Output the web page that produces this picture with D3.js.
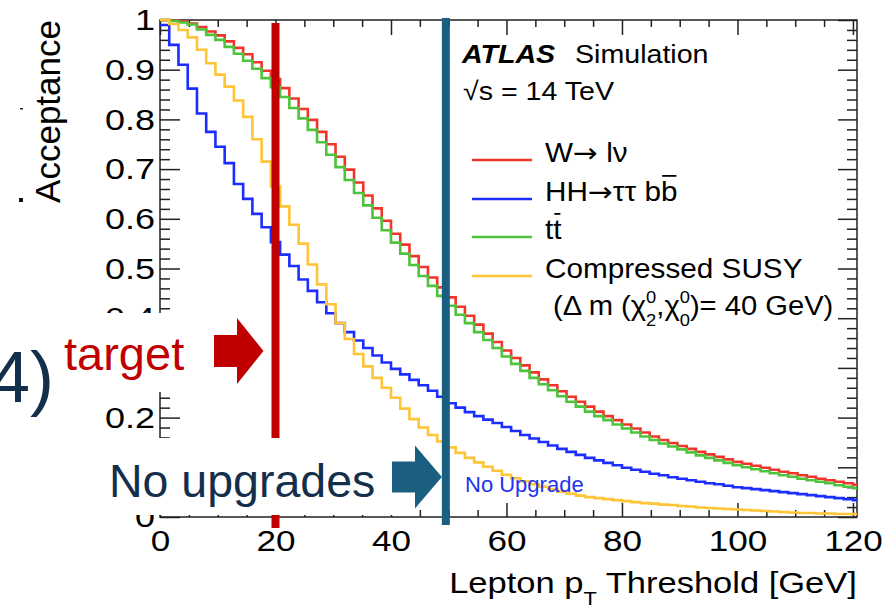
<!DOCTYPE html>
<html>
<head>
<meta charset="utf-8">
<script src="https://cdn.jsdelivr.net/npm/d3@7"></script>
<style>
body { margin: 0; background: #fff; }
svg { display: block; }
</style>
</head>
<body>
<svg id="chart"></svg>
<script>
// acceptance vs lepton pT threshold, one value per 1.6 GeV bin
let binWidth = 1.6;
let wlnu = [1.000,0.999,0.997,0.993,0.986,0.977,0.969,0.957,0.944,0.931,0.915,0.898,0.881,0.863,0.842,0.821,0.799,0.775,0.750,0.725,
    0.699,0.673,0.647,0.621,0.596,0.570,0.548,0.525,0.503,0.482,0.462,0.442,0.423,0.405,0.387,0.369,0.352,0.335,0.320,0.305,
    0.291,0.277,0.265,0.253,0.242,0.232,0.222,0.212,0.203,0.195,0.186,0.178,0.170,0.162,0.155,0.149,0.143,0.137,0.131,0.126,
    0.121,0.116,0.111,0.107,0.103,0.099,0.095,0.091,0.088,0.084,0.081,0.077,0.074,0.071,0.068,0.065];
let hhtautaubb = [0.990,0.950,0.910,0.862,0.812,0.775,0.745,0.712,0.670,0.640,0.610,0.583,0.553,0.528,0.505,0.478,0.455,0.432,0.410,0.390,
    0.372,0.355,0.340,0.325,0.311,0.298,0.287,0.276,0.265,0.254,0.242,0.229,0.220,0.211,0.203,0.196,0.189,0.181,0.173,0.165,
    0.158,0.151,0.144,0.137,0.131,0.125,0.119,0.114,0.109,0.104,0.099,0.095,0.091,0.087,0.084,0.080,0.077,0.074,0.071,0.068,
    0.066,0.063,0.060,0.058,0.056,0.054,0.052,0.050,0.048,0.046,0.044,0.042,0.040,0.038,0.036,0.034];
let ttbar = [1.000,0.998,0.995,0.991,0.981,0.970,0.960,0.946,0.932,0.918,0.902,0.883,0.865,0.845,0.823,0.802,0.779,0.754,0.729,0.704,
    0.678,0.652,0.627,0.602,0.577,0.552,0.530,0.507,0.485,0.465,0.445,0.425,0.407,0.390,0.372,0.356,0.340,0.323,0.308,0.294,
    0.280,0.267,0.255,0.243,0.232,0.222,0.212,0.203,0.195,0.186,0.178,0.170,0.162,0.155,0.148,0.142,0.136,0.130,0.124,0.119,
    0.114,0.109,0.104,0.100,0.096,0.092,0.088,0.084,0.081,0.077,0.074,0.071,0.068,0.064,0.061,0.058];
let compressedSusy = [1.000,0.992,0.980,0.965,0.940,0.913,0.890,0.866,0.838,0.805,0.760,0.715,0.665,0.625,0.588,0.550,0.508,0.468,0.428,0.390,
    0.358,0.328,0.303,0.280,0.260,0.240,0.218,0.197,0.180,0.165,0.152,0.140,0.129,0.119,0.110,0.101,0.093,0.085,0.078,0.072,
    0.066,0.061,0.056,0.051,0.047,0.043,0.040,0.038,0.036,0.034,0.032,0.030,0.028,0.027,0.025,0.024,0.022,0.021,0.019,0.018,
    0.017,0.016,0.015,0.014,0.013,0.012,0.011,0.010,0.009,0.008,0.008,0.007,0.007,0.006,0.006,0.006];

let seriesColors = ["#f2352b", "#1c2eff", "#4ec43c", "#ffc437"];
let xTicks = [0, 20, 40, 60, 80, 100, 120];
let xTickLabels = ["0", "20", "40", "60", "80", "100", "120"];
let yTicks = [0, 0.1, 0.2, 0.3, 0.4, 0.5, 0.6, 0.7, 0.8, 0.9, 1];
// 0.1 and 0.3 sit under the slide's white patches, so they are left blank
let yTickLabels = ["0", "", "0.2", "", "0.4", "0.5", "0.6", "0.7", "0.8", "0.9", "1"];
let targetThreshold = 20;
let noUpgradeThreshold = 49.5;

let FONT = "'Liberation Sans', Arial, Helvetica, sans-serif";
let NAVY = "#132f4c";
let TEAL = "#1a5f80";
let DARKRED = "#c00000";

function chartConfig(){
    let width = 894;
    let height = 609;
    let margin = {top: 20, left: 160, right: 37, bottom: 92};
    let bodyWidth = width - margin.left - margin.right;
    let bodyHeight = height - margin.top - margin.bottom;
    let container = d3.select("#chart")
        .attr("width", width)
        .attr("height", height)
        .attr("font-family", FONT);
    return {width, height, margin, bodyWidth, bodyHeight, container};
}

function chartScales(config){
    let {bodyWidth, bodyHeight} = config;
    let xScale = d3.scaleLinear().domain([0, 120.7]).range([0, bodyWidth]);
    let yScale = d3.scaleLinear().domain([0, 1]).range([bodyHeight, 0]);
    return {xScale, yScale};
}

function styleAxis(g){
    g.select(".domain").remove();
    g.selectAll("line").attr("stroke", "#222").attr("stroke-width", 1.5);
    g.attr("font-family", FONT).attr("font-size", 30);
    g.selectAll("text").attr("fill", "#000");
}

function drawAxes(scales, config){
    let {margin, container, bodyWidth, bodyHeight} = config;
    let {xScale, yScale} = scales;
    let body = container.append("g")
        .attr("transform", `translate(${margin.left},${margin.top})`);

    let xMinor = d3.range(0, 121, 5).filter(d => !xTicks.includes(d));
    let yMinor = d3.range(0, 51).filter(k => k % 5 !== 0).map(k => k / 50);

    // left
    body.append("g").call(d3.axisLeft(yScale).tickValues(yTicks)
        .tickSizeInner(-20).tickSizeOuter(0).tickPadding(5)
        .tickFormat((d, i) => yTickLabels[i]))
        .call(styleAxis)
        .selectAll("text").attr("transform", "translate(-5,0) scale(1.2,1) translate(5,0)");
    body.append("g").call(d3.axisLeft(yScale).tickValues(yMinor)
        .tickSizeInner(-10).tickSizeOuter(0).tickFormat(""))
        .call(styleAxis);
    // right
    body.append("g").attr("transform", `translate(${bodyWidth},0)`)
        .call(d3.axisRight(yScale).tickValues(yTicks).tickSizeInner(-19).tickSizeOuter(0).tickFormat(""))
        .call(styleAxis);
    body.append("g").attr("transform", `translate(${bodyWidth},0)`)
        .call(d3.axisRight(yScale).tickValues(yMinor).tickSizeInner(-10).tickSizeOuter(0).tickFormat(""))
        .call(styleAxis);
    // bottom
    body.append("g").attr("transform", `translate(0,${bodyHeight})`)
        .call(d3.axisBottom(xScale).tickValues(xTicks)
            .tickSizeInner(-14).tickSizeOuter(0).tickPadding(13)
            .tickFormat((d, i) => xTickLabels[i]))
        .call(styleAxis)
        .selectAll("text").attr("transform", "scale(1.17,1)");
    body.append("g").attr("transform", `translate(0,${bodyHeight})`)
        .call(d3.axisBottom(xScale).tickValues(xMinor).tickSizeInner(-7).tickSizeOuter(0).tickFormat(""))
        .call(styleAxis);
    // top
    body.append("g")
        .call(d3.axisTop(xScale).tickValues(xTicks).tickSizeInner(-15).tickSizeOuter(0).tickFormat(""))
        .call(styleAxis);
    body.append("g")
        .call(d3.axisTop(xScale).tickValues(xMinor).tickSizeInner(-7).tickSizeOuter(0).tickFormat(""))
        .call(styleAxis);

    body.append("rect")
        .attr("width", bodyWidth).attr("height", bodyHeight)
        .attr("fill", "none").attr("stroke", "#222").attr("stroke-width", 1.5);
    return body;
}

function toSteps(values){
    let pts = values.map((v, i) => ({x: i * binWidth, v}));
    pts.push({x: values.length * binWidth, v: values[values.length - 1]});
    return pts;
}

function drawCurves(body, scales, config){
    let {xScale, yScale} = scales;
    let {bodyWidth, bodyHeight} = config;
    config.container.append("defs").append("clipPath").attr("id", "frameClip")
        .append("rect").attr("x", 0).attr("y", -4)
        .attr("width", bodyWidth).attr("height", bodyHeight + 8);
    let line = d3.line()
        .x(d => xScale(d.x))
        .y(d => yScale(d.v))
        .curve(d3.curveStepAfter);
    let sets = [wlnu, hhtautaubb, ttbar, compressedSusy];
    body.append("g").attr("clip-path", "url(#frameClip)")
        .selectAll("path").data(sets).enter().append("path")
        .attr("d", d => line(toSteps(d)))
        .attr("fill", "none")
        .attr("stroke", (d, i) => seriesColors[i])
        .attr("stroke-width", 2.6);
}

// writes pieces one after another, measuring each; supports sup/sub/overline
function richText(g, parts, size){
    let x = 0, lastX = 0;
    parts.forEach(p => {
        let small = p.sup || p.sub;
        let fs = small ? 17 : size;
        let dy = p.sup ? -12 : (p.sub ? 11 : 0);
        let px = p.stack ? lastX : x;
        let t = g.append("text")
            .attr("x", px).attr("y", dy)
            .attr("font-size", fs)
            .attr("font-family", p.family || null)
            .attr("font-weight", p.bold ? "bold" : null)
            .attr("font-style", p.italic ? "italic" : null)
            .style("white-space", "pre")
            .text(p.t);
        let w = t.node().getComputedTextLength();
        if(p.over){
            g.append("line")
                .attr("x1", px + 1).attr("x2", px + w - 1)
                .attr("y1", -size * 0.93).attr("y2", -size * 0.93)
                .attr("stroke", "#000").attr("stroke-width", 1.8);
        }
        lastX = px;
        x = Math.max(x, px + w);
    });
    return x;
}

function stretched(parent, x, y, sx){
    return parent.append("g").attr("transform", `translate(${x},${y}) scale(${sx},1)`);
}

function drawLegend(config){
    let {container} = config;
    let size = 27;
    richText(stretched(container, 462, 63, 1.1), [{t: "ATLAS", bold: true, italic: true}], 26);
    richText(stretched(container, 575, 63, 1.1), [{t: "Simulation"}], 26);
    richText(stretched(container, 463, 100, 1.1), [{t: "√s = 14 TeV"}], 26);

    let arrowGlyph = {t: "→", family: "'DejaVu Sans', sans-serif"};
    let entries = [
        [{t: "W"}, arrowGlyph, {t: " lν"}],
        [{t: "HH"}, arrowGlyph, {t: "ττ b"}, {t: "b", over: true}],
        [{t: "t"}, {t: "t", over: true}],
        [{t: "Compressed SUSY"}]
    ];
    let lineY = [160, 199, 237, 276];
    entries.forEach((parts, i) => {
        container.append("line")
            .attr("x1", 472).attr("x2", 532)
            .attr("y1", lineY[i]).attr("y2", lineY[i])
            .attr("stroke", seriesColors[i]).attr("stroke-width", 2.6);
        richText(stretched(container, 545, lineY[i] + 2, 1.1), parts, size);
    });
    richText(stretched(container, 553, 315, 1.08), [
        {t: "(Δ m (χ"}, {t: "0", sup: true}, {t: "2", sub: true, stack: true},
        {t: ",χ"}, {t: "0", sup: true}, {t: "0", sub: true, stack: true},
        {t: ")= 40 GeV)"}
    ], size);
}

function drawAxisTitles(config){
    let {container} = config;
    container.append("text")
        .attr("transform", "translate(60,20) rotate(-90)")
        .attr("text-anchor", "end")
        .attr("font-size", 35)
        .text("Acceptance");

    let sx = 1.15;
    let g = container.append("g");
    let pieces = [{t: "Lepton p"}, {t: "T", sub: true}, {t: " Threshold [GeV]"}];
    let x = 0;
    pieces.forEach(p => {
        let t = g.append("text")
            .attr("x", x).attr("y", p.sub ? 12 : 0)
            .attr("font-size", p.sub ? 19 : 30)
            .style("white-space", "pre")
            .text(p.t);
        x += t.node().getComputedTextLength();
    });
    g.attr("transform", `translate(${857 - x * sx},593) scale(${sx},1)`);

    // small marks left over at the slide edge
    container.append("rect").attr("x", 20).attr("y", 108).attr("width", 3).attr("height", 1.5).attr("fill", "#222");
    container.append("rect").attr("x", 19).attr("y", 198).attr("width", 4).attr("height", 4).attr("fill", "#111");
}

function arrow(container, x0, xNeck, xTip, yMid, shaftHalf, headHalf, color){
    let pts = [
        [x0, yMid - shaftHalf], [xNeck, yMid - shaftHalf], [xNeck, yMid - headHalf],
        [xTip, yMid], [xNeck, yMid + headHalf], [xNeck, yMid + shaftHalf], [x0, yMid + shaftHalf]
    ];
    container.append("polygon")
        .attr("points", pts.map(p => p.join(",")).join(" "))
        .attr("fill", color);
}

function drawOverlay(scales, config){
    let {container, margin} = config;
    let {xScale} = scales;
    let xTarget = margin.left + xScale(targetThreshold);
    let xNoUp = margin.left + xScale(noUpgradeThreshold);

    container.append("rect")
        .attr("x", xTarget - 4).attr("y", 23).attr("width", 8).attr("height", 505)
        .attr("fill", DARKRED);
    container.append("rect")
        .attr("x", xNoUp - 4).attr("y", 18).attr("width", 8).attr("height", 507)
        .attr("fill", TEAL);

    // white patches of the slide
    container.append("rect").attr("x", 0).attr("y", 313).attr("width", 268).attr("height", 79).attr("fill", "#fff");
    container.append("rect").attr("x", 0).attr("y", 438).attr("width", 405).attr("height", 77).attr("fill", "#fff");

    arrow(container, 214, 237, xTarget - 12, 351, 16, 33, DARKRED);
    arrow(container, 392, 415, xNoUp - 4, 477, 15.5, 31.5, TEAL);

    container.append("text")
        .attr("x", 54).attr("y", 402)
        .attr("text-anchor", "end")
        .attr("font-size", 72)
        .attr("fill", NAVY)
        .text("4)");
    container.append("text")
        .attr("x", 64).attr("y", 370)
        .attr("font-size", 47)
        .attr("fill", DARKRED)
        .text("target");
    container.append("text")
        .attr("x", 109).attr("y", 497)
        .attr("font-size", 46.5)
        .attr("fill", NAVY)
        .text("No upgrades");
    container.append("text")
        .attr("x", 465).attr("y", 492)
        .attr("font-size", 22)
        .attr("fill", "#2233ee")
        .text("No Upgrade");
}

function drawChart(){
    let config = chartConfig();
    let scales = chartScales(config);
    let body = drawAxes(scales, config);
    drawCurves(body, scales, config);
    drawLegend(config);
    drawAxisTitles(config);
    drawOverlay(scales, config);
}

drawChart();
</script>
</body>
</html>
